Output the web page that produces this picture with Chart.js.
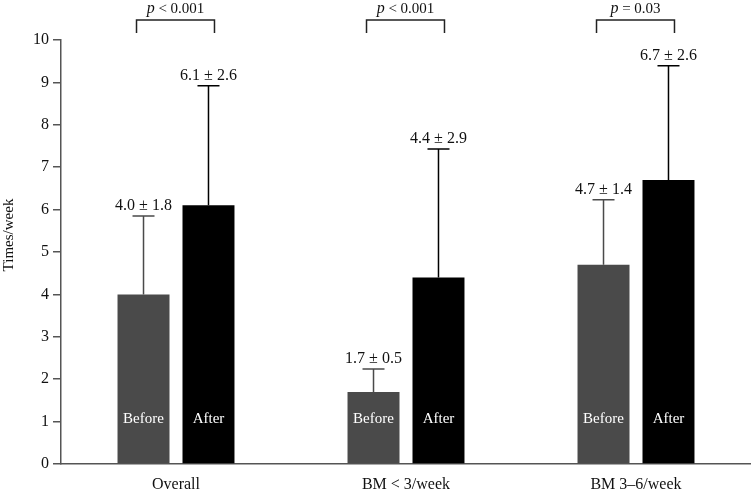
<!DOCTYPE html>
<html>
<head>
<meta charset="utf-8">
<script src="https://cdn.jsdelivr.net/npm/chart.js@4"></script>
<style>
  body { margin: 0; background: #fff; }
  canvas { display: block; }
</style>
</head>
<body>
<canvas id="chart" width="751" height="491"></canvas>
<script>
const categories = ['Overall', 'BM < 3/week', 'BM 3\u20136/week'];
const beforeValues = [4.0, 1.7, 4.7];
const afterValues = [6.1, 4.4, 6.7];
// tops of the error bars as drawn in the figure
const beforeErrTop = [5.85, 2.24, 6.23];
const afterErrTop = [8.92, 7.43, 9.39];
const beforeLabels = ['4.0 \u00b1 1.8', '1.7 \u00b1 0.5', '4.7 \u00b1 1.4'];
const afterLabels = ['6.1 \u00b1 2.6', '4.4 \u00b1 2.9', '6.7 \u00b1 2.6'];
const pValues = ['< 0.001', '< 0.001', '= 0.03'];

const serif = '"Liberation Serif", "DejaVu Serif", serif';

// error bars, value labels, in-bar labels, p-value brackets and y title
const annotations = {
  id: 'annotations',
  afterDatasetsDraw(chart) {
    const ctx = chart.ctx;
    const y = chart.scales.y;
    const metaB = chart.getDatasetMeta(0);
    const metaA = chart.getDatasetMeta(1);
    ctx.save();
    categories.forEach((c, i) => {
      const bars = [
        { el: metaB.data[i], top: beforeErrTop[i], label: beforeLabels[i], color: '#4a4a4a', inner: 'Before' },
        { el: metaA.data[i], top: afterErrTop[i], label: afterLabels[i], color: '#000', inner: 'After' }
      ];
      bars.forEach(b => {
        const x = b.el.x;
        const yTop = y.getPixelForValue(b.top);
        ctx.strokeStyle = b.color;
        ctx.lineWidth = 1.5;
        ctx.beginPath();
        ctx.moveTo(x, b.el.y);
        ctx.lineTo(x, yTop);
        ctx.moveTo(x - 11, yTop);
        ctx.lineTo(x + 11, yTop);
        ctx.stroke();

        ctx.fillStyle = '#111';
        ctx.font = '16px ' + serif;
        ctx.textAlign = 'center';
        ctx.textBaseline = 'alphabetic';
        ctx.fillText(b.label, x, yTop - 6);

        ctx.fillStyle = '#fff';
        ctx.font = '15px ' + serif;
        ctx.textBaseline = 'middle';
        ctx.fillText(b.inner, x, y.getPixelForValue(1.07));
      });

      // bracket
      const x1 = metaB.data[i].x - 7;
      const x2 = metaA.data[i].x + 6;
      ctx.strokeStyle = '#222';
      ctx.lineWidth = 1.5;
      ctx.beginPath();
      ctx.moveTo(x1, 33);
      ctx.lineTo(x1, 20);
      ctx.lineTo(x2, 20);
      ctx.lineTo(x2, 33);
      ctx.stroke();

      const cx = (x1 + x2) / 2;
      ctx.fillStyle = '#111';
      ctx.textBaseline = 'alphabetic';
      ctx.font = 'italic 16px ' + serif;
      const pW = ctx.measureText('p').width;
      ctx.font = '15px ' + serif;
      const rest = ' ' + pValues[i];
      const rW = ctx.measureText(rest).width;
      const start = cx - (pW + rW) / 2;
      ctx.textAlign = 'left';
      ctx.font = 'italic 16px ' + serif;
      ctx.fillText('p', start, 13);
      ctx.font = '15px ' + serif;
      ctx.fillText(rest, start + pW, 13);
    });

    // y axis title
    ctx.translate(9, 235);
    ctx.rotate(-Math.PI / 2);
    ctx.fillStyle = '#111';
    ctx.font = '15px ' + serif;
    ctx.textAlign = 'center';
    ctx.textBaseline = 'middle';
    ctx.fillText('Times/week', 0, 0);
    ctx.restore();
  }
};

new Chart(document.getElementById('chart'), {
  type: 'bar',
  data: {
    labels: categories,
    datasets: [
      {
        label: 'Before',
        data: beforeValues,
        backgroundColor: '#4a4a4a',
        categoryPercentage: 0.565,
        barPercentage: 0.8
      },
      {
        label: 'After',
        data: afterValues,
        backgroundColor: '#000000',
        categoryPercentage: 0.565,
        barPercentage: 0.8
      }
    ]
  },
  options: {
    responsive: false,
    animation: false,
    layout: { padding: { top: 40, right: 0, bottom: 0, left: 0 } },
    plugins: {
      legend: { display: false },
      tooltip: { enabled: false }
    },
    scales: {
      x: {
        grid: { display: false, drawTicks: false },
        border: { display: true, color: '#555', width: 1.5 },
        ticks: { color: '#111', font: { family: serif, size: 16 }, padding: 11 },
        afterFit(scale) { scale.height = 27; }
      },
      y: {
        min: 0,
        max: 10,
        ticks: { stepSize: 1, color: '#111', font: { family: serif, size: 16 }, padding: 4 },
        grid: { drawOnChartArea: false, drawTicks: true, tickLength: 8, color: '#555', lineWidth: 1.5 },
        border: { display: true, color: '#555', width: 1.5 },
        afterFit(scale) { scale.width = 61; }
      }
    }
  },
  plugins: [annotations]
});
</script>
</body>
</html>
